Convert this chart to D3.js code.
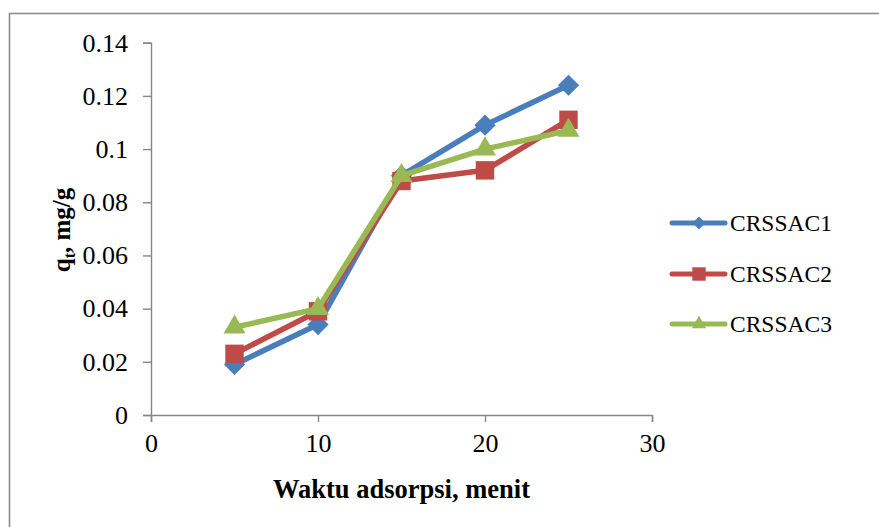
<!DOCTYPE html>
<html>
<head>
<meta charset="utf-8">
<script src="https://cdn.jsdelivr.net/npm/d3@7"></script>
<style>
  body { margin: 0; background: #fff; }
  text { font-family: "Liberation Serif", "Times New Roman", serif; fill: #000; }
</style>
</head>
<body>
<svg id="chart"></svg>
<script>
// data
const times = [5, 10, 15, 20, 25];
const crssac1 = [0.019, 0.034, 0.090, 0.109, 0.124];
const crssac2 = [0.023, 0.039, 0.088, 0.092, 0.111];
const crssac3 = [0.033, 0.040, 0.090, 0.100, 0.107];
const seriesNames = ["CRSSAC1", "CRSSAC2", "CRSSAC3"];
const xTicks = [0, 10, 20, 30];
const yTicks = [0, 0.02, 0.04, 0.06, 0.08, 0.1, 0.12, 0.14];

function draw_chart() {
    let width = 879;
    let height = 527;

    let colors = ["#4a7ebb", "#be4b48", "#98b954"];
    let symbols = [d3.symbolSquare, d3.symbolSquare, d3.symbolTriangle];
    let sizes = [225, 340, 210];
    let legendSizes = [85, 180, 90];

    const svg = d3.select("#chart")
        .attr("width", width)
        .attr("height", height);

    // outer chart border (runs off right and bottom)
    svg.append("rect")
        .attr("x", 9.5).attr("y", 13.5)
        .attr("width", 900).attr("height", 600)
        .attr("fill", "none")
        .attr("stroke", "#8c8c8c")
        .attr("stroke-width", 1.6);

    const x = d3.scaleLinear().domain([0, 30]).range([151, 652]);
    const y = d3.scaleLinear().domain([0, 0.14]).range([415, 42.7]);

    const xAxis = svg.append("g")
        .attr("transform", "translate(0,415)")
        .call(d3.axisBottom(x).tickValues(xTicks).tickSize(7).tickPadding(12)
            .tickFormat(d3.format("d")));

    const yAxis = svg.append("g")
        .attr("transform", "translate(151,0)")
        .call(d3.axisLeft(y).tickValues(yTicks).tickSize(8).tickPadding(15)
            .tickFormat(d => d === 0 ? "0" : String(+d.toFixed(2))));

    [xAxis, yAxis].forEach(a => {
        a.select(".domain").attr("stroke", "#868686").attr("stroke-width", 1.4);
        a.selectAll(".tick line").attr("stroke", "#868686").attr("stroke-width", 1.4);
        a.selectAll(".tick text")
            .attr("font-size", 26)
            .attr("fill", "#000");
    });

    // axis titles
    svg.append("text")
        .attr("x", 401.5).attr("y", 498)
        .attr("text-anchor", "middle")
        .attr("font-size", 26.5)
        .attr("font-weight", "bold")
        .text("Waktu adsorpsi, menit");

    const yTitle = svg.append("text")
        .attr("transform", "translate(70,230) rotate(-90)")
        .attr("text-anchor", "middle")
        .attr("font-size", 25)
        .attr("font-weight", "bold");
    yTitle.append("tspan").text("q");
    yTitle.append("tspan").attr("font-size", 16).attr("dy", 5).text("t");
    yTitle.append("tspan").attr("dy", -5).text(", mg/g");

    const line = d3.line()
        .x(d => x(d.t))
        .y(d => y(d.q));

    const series = [crssac1, crssac2, crssac3].map((vals, i) => ({
        name: seriesNames[i],
        points: vals.map((q, j) => ({t: times[j], q: q}))
    }));

    series.forEach((s, i) => {
        const g = svg.append("g");
        g.append("path")
            .datum(s.points)
            .attr("d", line)
            .attr("fill", "none")
            .attr("stroke", colors[i])
            .attr("stroke-width", 5.5)
            .attr("stroke-linejoin", "round");

        g.selectAll("path.marker")
            .data(s.points)
            .join("path")
            .attr("class", "marker")
            .attr("d", d3.symbol().type(symbols[i]).size(sizes[i]))
            .attr("transform", d => `translate(${x(d.t)},${y(d.q)})` + (i === 0 ? " rotate(45)" : ""))
            .attr("fill", colors[i]);
    });

    // legend
    const legend = svg.append("g");
    const legendY = [223, 274, 324];
    series.forEach((s, i) => {
        const row = legend.append("g").attr("transform", `translate(0,${legendY[i]})`);
        row.append("line")
            .attr("x1", 672).attr("x2", 725)
            .attr("stroke", colors[i])
            .attr("stroke-width", 5)
            .attr("stroke-linecap", "round");
        row.append("path")
            .attr("d", d3.symbol().type(symbols[i]).size(legendSizes[i]))
            .attr("transform", "translate(699,0)" + (i === 0 ? " rotate(45)" : ""))
            .attr("fill", colors[i]);
        row.append("text")
            .attr("x", 730).attr("y", 0)
            .attr("dy", "0.35em")
            .attr("font-size", 23.5)
            .text(s.name);
    });
}

draw_chart();
</script>
</body>
</html>
